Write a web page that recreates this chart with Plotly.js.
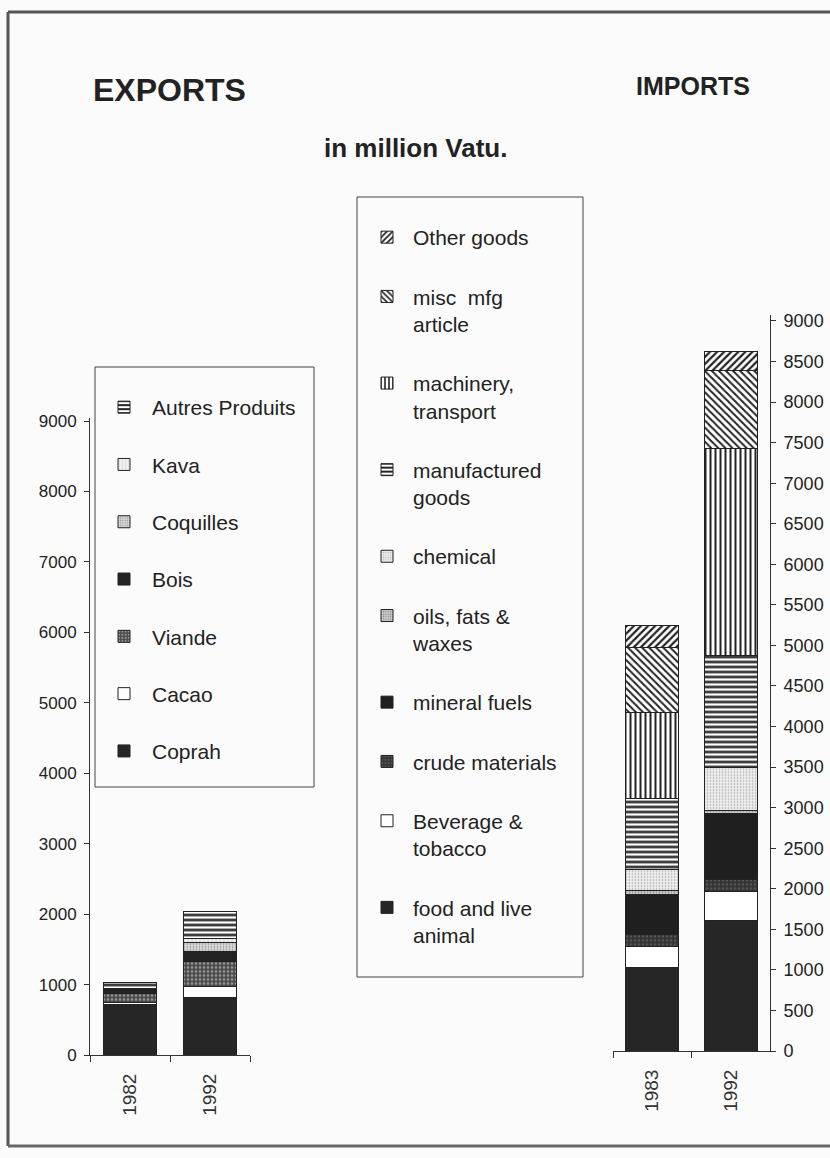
<!DOCTYPE html>
<html><head><meta charset="utf-8">
<script src="https://cdn.plot.ly/plotly-3.0.1.min.js"></script>
<style>body{margin:0;background:#fbfbfb}</style>
</head><body><div id="chart" style="width:830px;height:1158px"></div>
<script>
// ---------- DATA ----------
const exportYears = ['1982', '1992'];
const exportNames = ['Coprah', 'Cacao', 'Viande', 'Bois', 'Coquilles', 'Kava', 'Autres Produits'];
const coprah = [720, 820];
const cacao = [30, 150];
const viande = [130, 356];
const bois = [40, 142];
const coquilles = [15, 130];
const kava = [15, 60];
const autres = [80, 376];

const importYears = ['1983', '1992'];
const importNames = ['food and live<br>animal', 'Beverage &<br>tobacco', 'crude materials', 'mineral fuels',
  'oils, fats &<br>waxes', 'chemical', 'manufactured<br>goods', 'machinery,<br>transport', 'misc  mfg<br>article', 'Other goods'];
const food = [1025, 1613];
const beverage = [260, 349];
const crude = [150, 150];
const mineral = [500, 818];
const oils = [40, 38];
const chemical = [263, 532];
const manufactured = [874, 1377];
const machinery = [1067, 2545];
const misc = [800, 973];
const other = [267, 229];

const exportTicks = [0, 1000, 2000, 3000, 4000, 5000, 6000, 7000, 8000, 9000];
const importTicks = [0, 500, 1000, 1500, 2000, 2500, 3000, 3500, 4000, 4500, 5000, 5500, 6000, 6500, 7000, 7500, 8000, 8500, 9000];

// ---------- STYLES ----------
const W = 830, H = 1158;
const px = v => v / W, py = v => (H - v) / H;
const FONT = 'Liberation Sans, Arial, sans-serif';
const INK = '#222';

const exportSeries = [coprah, cacao, viande, bois, coquilles, kava, autres];
const exportStyle = [
  {color: '#262626'},
  {color: '#ffffff'},
  {color: '#4a4a4a', pattern: {shape: '.', fgcolor: '#9a9a9a', size: 4, solidity: 0.35}},
  {color: '#232323'},
  {color: '#dcdcdc', pattern: {shape: '.', fgcolor: '#999', size: 3, solidity: 0.3}},
  {color: '#f2f2f2', pattern: {shape: '|', fgcolor: '#c4c4c4', size: 4, solidity: 0.2}},
  {color: '#ffffff', pattern: {shape: '-', fgcolor: '#222', size: 5, solidity: 0.5}}
];

const importSeries = [food, beverage, crude, mineral, oils, chemical, manufactured, machinery, misc, other];
const importStyle = [
  {color: '#262626'},
  {color: '#ffffff'},
  {color: '#333333', pattern: {shape: '.', fgcolor: '#555', size: 4, solidity: 0.35}},
  {color: '#1f1f1f'},
  {color: '#cfcfcf', pattern: {shape: '.', fgcolor: '#8a8a8a', size: 3, solidity: 0.3}},
  {color: '#efefef', pattern: {shape: '.', fgcolor: '#aaa', size: 3, solidity: 0.25}},
  {color: '#ffffff', pattern: {shape: '-', fgcolor: '#222', size: 5, solidity: 0.5}},
  {color: '#ffffff', pattern: {shape: '|', fgcolor: '#222', size: 5, solidity: 0.4}},
  {color: '#ffffff', pattern: {shape: '\\', fgcolor: '#222', size: 5, solidity: 0.4}},
  {color: '#ffffff', pattern: {shape: '/', fgcolor: '#222', size: 5, solidity: 0.45}}
];

const traces = [];
exportSeries.forEach((vals, i) => {
  const st = exportStyle[i];
  const marker = {color: st.color, line: {color: INK, width: 1}};
  if (st.pattern) marker.pattern = Object.assign({fillmode: 'replace', bgcolor: st.color}, st.pattern);
  traces.push({type: 'bar', x: exportYears, y: vals, name: exportNames[i], xaxis: 'x', yaxis: 'y',
    marker, legend: 'legend', legendgroup: 'e' + i, legendrank: 100 - i, hoverinfo: 'name+y'});
});
importSeries.forEach((vals, i) => {
  const st = importStyle[i];
  const marker = {color: st.color, line: {color: INK, width: 1}};
  if (st.pattern) marker.pattern = Object.assign({fillmode: 'replace', bgcolor: st.color}, st.pattern);
  traces.push({type: 'bar', x: importYears, y: vals, name: importNames[i], xaxis: 'x2', yaxis: 'y2',
    marker, legend: 'legend2', legendgroup: 'i' + i, legendrank: 100 - i, hoverinfo: 'name+y'});
});

const axisCommon = {showgrid: false, zeroline: false, showline: true, linecolor: '#333', linewidth: 1,
  ticks: 'outside', ticklen: 5, tickcolor: '#333', fixedrange: true};

const layout = {
  width: W, height: H,
  margin: {l: 0, r: 0, t: 0, b: 0},
  paper_bgcolor: '#fbfbfb', plot_bgcolor: 'rgba(0,0,0,0)',
  barmode: 'stack', bargap: 0.33,
  font: {family: FONT, color: INK},
  showlegend: true,
  xaxis: Object.assign({}, axisCommon, {domain: [px(90), px(250)], anchor: 'y', type: 'category',
    tickson: 'boundaries', tickangle: -90, ticklen: 6, tickfont: {size: 19, color: '#333'}, ticklabelstandoff: 10}),
  yaxis: Object.assign({}, axisCommon, {domain: [py(1055), py(417.5)], anchor: 'x', range: [0, 9050],
    tickvals: exportTicks, tickfont: {size: 17}, ticklabelstandoff: 4}),
  xaxis2: Object.assign({}, axisCommon, {domain: [px(613), px(770)], anchor: 'y2', type: 'category',
    tickson: 'boundaries', tickangle: -90, ticklen: 6, tickfont: {size: 19, color: '#333'}, ticklabelstandoff: 10}),
  yaxis2: Object.assign({}, axisCommon, {domain: [py(1051), py(314.5)], anchor: 'x2', side: 'right', range: [0, 9080],
    tickvals: importTicks, tickfont: {size: 18}, ticklabelstandoff: 4}),
  legend: {x: px(96), y: py(387), xanchor: 'left', yanchor: 'top', bgcolor: 'rgba(0,0,0,0)', borderwidth: 0,
    traceorder: 'grouped', tracegroupgap: 27, itemwidth: 46, valign: 'top',
    font: {size: 21, color: INK, family: FONT}, itemclick: false, itemdoubleclick: false},
  legend2: {x: px(361), y: py(217), xanchor: 'left', yanchor: 'top', bgcolor: 'rgba(0,0,0,0)', borderwidth: 0,
    traceorder: 'grouped', tracegroupgap: 29, itemwidth: 42, valign: 'top',
    font: {size: 21, color: INK, family: FONT}, itemclick: false, itemdoubleclick: false},
  annotations: [
    {text: '<b>EXPORTS</b>', x: px(169), y: py(90), xref: 'paper', yref: 'paper', xanchor: 'center', yanchor: 'middle',
      showarrow: false, font: {size: 32, family: FONT, color: INK}},
    {text: '<b>IMPORTS</b>', x: px(693), y: py(86), xref: 'paper', yref: 'paper', xanchor: 'center', yanchor: 'middle',
      showarrow: false, font: {size: 25, family: FONT, color: INK}},
    {text: '<b>in million Vatu.</b>', x: px(415), y: py(148), xref: 'paper', yref: 'paper', xanchor: 'center', yanchor: 'middle',
      showarrow: false, font: {size: 26, family: FONT, color: INK}}
  ],
  shapes: [
    {type: 'line', xref: 'paper', yref: 'paper', x0: px(8), x1: px(835), y0: py(12), y1: py(12), line: {color: '#555', width: 3}},
    {type: 'line', xref: 'paper', yref: 'paper', x0: px(8), x1: px(8), y0: py(12), y1: py(1146), line: {color: '#555', width: 3}},
    {type: 'line', xref: 'paper', yref: 'paper', x0: px(8), x1: px(835), y0: py(1146), y1: py(1146), line: {color: '#666', width: 3}},
    {type: 'rect', xref: 'paper', yref: 'paper', x0: px(95), x1: px(314), y0: py(787), y1: py(367), line: {color: '#444', width: 1}},
    {type: 'rect', xref: 'paper', yref: 'paper', x0: px(357), x1: px(583), y0: py(977), y1: py(197), line: {color: '#444', width: 1}}
  ]
};

Plotly.newPlot('chart', traces, layout, {staticPlot: true, displayModeBar: false});
</script>
</body></html>
